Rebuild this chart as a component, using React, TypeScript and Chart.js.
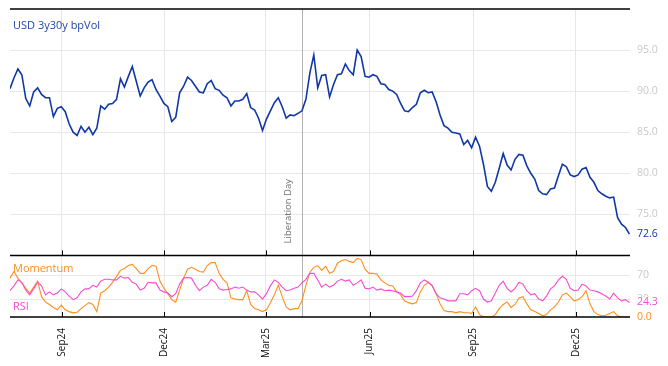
import React, { useEffect, useRef } from 'react';
import { Chart, registerables } from 'chart.js';

Chart.register(...registerables);

const TITLE = 'USD 3y30y bpVol';
const START_DATE = '2024-07-17';
const STEP_DAYS = 3.5;
const X_MAX_DAYS = 550;
const TICK_DATES = ['2024-09-01', '2024-12-01', '2025-03-01', '2025-06-01', '2025-09-01', '2025-12-01'];
const TICK_LABELS = ['Sep24', 'Dec24', 'Mar25', 'Jun25', 'Sep25', 'Dec25'];
const EVENT_DATE = '2025-04-02';
const EVENT_LABEL = 'Liberation Day';
const VOL_TICKS = [75, 80, 85, 90, 95];
const OSC_TICKS = [30, 70];

const VOL = [
  90.3, 91.6, 92.7, 92.0, 89.1, 88.2, 89.9, 90.4, 89.6, 89.2,
  89.2, 86.9, 87.9, 88.1, 87.5, 86.0, 85.0, 84.6, 85.7, 85.0,
  85.6, 84.7, 85.5, 88.2, 87.8, 88.4, 88.5, 89.0, 91.5, 90.5,
  91.8, 93.0, 91.2, 89.4, 90.4, 91.1, 91.4, 90.2, 89.4, 88.5,
  88.1, 86.3, 86.8, 89.8, 90.6, 91.7, 91.3, 90.6, 89.9, 89.8,
  90.9, 91.3, 90.3, 90.1, 89.5, 89.2, 88.2, 88.8, 88.8, 89.0,
  89.7, 88.0, 87.7, 86.7, 85.2, 86.6, 87.6, 88.6, 89.2, 88.1,
  86.7, 87.1, 87.0, 87.3, 87.6, 89.0, 92.2, 94.4, 90.4, 91.9,
  92.0, 89.3, 90.8, 92.0, 92.1, 93.3, 92.5, 92.0, 95.0, 94.2,
  91.8, 91.7, 92.0, 91.8, 90.9, 90.8, 90.2, 90.0, 89.6, 88.5,
  87.6, 87.5, 88.0, 88.4, 89.8, 90.1, 89.8, 89.9, 88.7, 87.1,
  85.8, 85.5, 85.0, 84.9, 84.8, 83.5, 84.0, 83.1, 84.4, 83.3,
  81.1, 78.4, 77.8, 78.9, 80.6, 82.4, 81.0, 80.4, 81.7, 82.3,
  82.2, 80.9, 80.0, 79.3, 77.9, 77.5, 77.4, 78.1, 78.2, 79.7,
  81.1, 80.8, 79.8, 79.6, 79.8, 80.5, 80.7, 79.5, 78.9, 77.9,
  77.5, 77.2, 77.0, 77.1, 74.6, 73.8, 73.4, 72.6,
];

const MOMENTUM = [
  65, 76, 65, 57, 48, 40, 50, 60, 34, 25,
  21, 16, 12, 20, 12, 9, 7, 8, 14, 19,
  24, 21, 9, 40, 44, 50, 58, 68, 78, 81,
  86, 88, 81, 73, 73, 81, 86, 85, 60, 48,
  39, 29, 25, 45, 65, 80, 83, 80, 76, 75,
  86, 91, 91, 73, 63, 57, 32, 30, 29, 29,
  44, 21, 14, 12, 9, 12, 24, 37, 53, 34,
  17, 12, 14, 14, 27, 53, 75, 83, 86, 78,
  85, 73, 76, 90, 94, 96, 93, 91, 98, 96,
  80, 73, 73, 72, 62, 57, 53, 52, 42, 37,
  27, 24, 22, 24, 42, 53, 58, 53, 39, 22,
  11, 9, 9, 7, 9, 7, 7, 6, 17, 4,
  0, 0, 0, 4, 14, 21, 25, 16, 21, 32,
  34, 22, 12, 9, 6, 2, 4, 12, 17, 25,
  37, 40, 34, 27, 29, 34, 44, 22, 9, 4,
  2, 3, 6, 9, 2, 0, 0, 0,
];

const RSI = [
  44, 52, 62, 58, 45, 37, 47, 58, 52, 37,
  42, 37, 40, 47, 42, 35, 29, 32, 42, 47,
  47, 53, 50, 60, 63, 63, 62, 62, 68, 65,
  66, 58, 55, 45, 48, 58, 57, 57, 45, 42,
  40, 34, 39, 55, 65, 66, 65, 53, 44, 50,
  53, 63, 58, 47, 45, 46, 47, 50, 48, 50,
  45, 42, 42, 37, 30, 39, 52, 62, 58, 50,
  44, 45, 48, 50, 57, 63, 73, 73, 62, 50,
  55, 50, 53, 60, 63, 60, 62, 53, 57, 62,
  48, 47, 50, 45, 47, 44, 45, 44, 42, 40,
  34, 34, 35, 44, 57, 62, 58, 52, 39, 32,
  30, 27, 27, 27, 39, 39, 37, 44, 48, 44,
  30, 25, 27, 40, 53, 60, 48, 42, 48, 58,
  55, 44, 37, 39, 30, 27, 35, 47, 52, 62,
  68, 63, 48, 44, 45, 55, 52, 45, 44, 42,
  39, 35, 30, 40, 32, 27, 29, 24.3,
];

const FONT = "'Open Sans', 'DejaVu Sans', sans-serif";
const BLUE = '#1037a6';
const ORANGE = '#ff8e1c';
const MAGENTA = '#f54bd5';

const dayOf = (d: string) => (Date.parse(d) - Date.parse(START_DATE)) / 86400000;
const toPoints = (arr: number[]) => arr.map((v, i) => ({ x: i * STEP_DAYS, y: v }));

const decor = {
  id: 'decor',
  beforeDatasetsDraw(chart: any) {
    const { ctx, chartArea: ca, scales } = chart;
    const ex = Math.round(scales.x.getPixelForValue(dayOf(EVENT_DATE))) + 0.5;
    ctx.save();
    ctx.strokeStyle = '#b2b2b2';
    ctx.lineWidth = 1;
    ctx.beginPath();
    ctx.moveTo(ex, ca.top);
    ctx.lineTo(ex, ca.bottom);
    ctx.stroke();
    ctx.translate(ex - 11.5, scales.y.bottom - 12);
    ctx.rotate(-Math.PI / 2);
    ctx.fillStyle = '#707070';
    ctx.font = `9.5px ${FONT}`;
    ctx.textAlign = 'left';
    ctx.textBaseline = 'alphabetic';
    ctx.fillText(EVENT_LABEL, 0, 0);
    ctx.restore();
  },
  afterDatasetsDraw(chart: any) {
    const { ctx, chartArea: ca, scales } = chart;
    const { x, y, y2 } = scales;
    ctx.save();
    // horizontal frame lines
    ctx.strokeStyle = '#000';
    ctx.lineWidth = 1.5;
    [ca.top, y.bottom, ca.bottom].forEach((yy: number) => {
      ctx.beginPath();
      ctx.moveTo(ca.left, yy);
      ctx.lineTo(ca.right, yy);
      ctx.stroke();
    });
    // inward tick marks
    ctx.lineWidth = 1;
    TICK_DATES.forEach((d) => {
      const px = Math.round(x.getPixelForValue(dayOf(d))) + 0.5;
      [y.bottom, ca.bottom].forEach((yy: number) => {
        ctx.beginPath();
        ctx.moveTo(px, yy);
        ctx.lineTo(px, yy - 5);
        ctx.stroke();
      });
    });
    // panel labels
    ctx.textAlign = 'left';
    ctx.textBaseline = 'alphabetic';
    ctx.font = `11px ${FONT}`;
    ctx.fillStyle = '#2446a8';
    ctx.fillText(TITLE, ca.left + 3, ca.top + 20);
    ctx.fillStyle = ORANGE;
    ctx.fillText('Momentum', ca.left + 3, y2.top + 16.5);
    ctx.fillStyle = MAGENTA;
    ctx.fillText('RSI', ca.left + 3, ca.bottom - 7);
    // last value labels
    const lastLabels: [number, any, string][] = [
      [VOL[VOL.length - 1], y, BLUE],
      [RSI[RSI.length - 1], y2, MAGENTA],
      [MOMENTUM[MOMENTUM.length - 1], y2, ORANGE],
    ];
    ctx.font = `10.5px ${FONT}`;
    ctx.textBaseline = 'middle';
    lastLabels.forEach(([v, sc, col]) => {
      const py = sc.getPixelForValue(v);
      ctx.fillStyle = '#fff';
      ctx.fillRect(ca.right + 4, py - 5.5, 30, 11);
      ctx.fillStyle = col;
      ctx.fillText(v.toFixed(1), ca.right + 7, py);
    });
    ctx.restore();
  },
};

export default function App() {
  const ref = useRef<HTMLCanvasElement | null>(null);

  useEffect(() => {
    if (!ref.current) return;
    const tickDays = TICK_DATES.map(dayOf);
    const chart = new Chart(ref.current, {
      type: 'line',
      data: {
        datasets: [
          {
            label: TITLE,
            data: toPoints(VOL),
            yAxisID: 'y',
            borderColor: BLUE,
            borderWidth: 1.6,
            pointRadius: 0,
            tension: 0,
          },
          {
            label: 'RSI',
            data: toPoints(RSI),
            yAxisID: 'y2',
            borderColor: MAGENTA,
            borderWidth: 1.1,
            pointRadius: 0,
            tension: 0,
          },
          {
            label: 'Momentum',
            data: toPoints(MOMENTUM),
            yAxisID: 'y2',
            borderColor: ORANGE,
            borderWidth: 1.1,
            pointRadius: 0,
            tension: 0,
          },
        ],
      },
      options: {
        animation: false,
        responsive: true,
        maintainAspectRatio: false,
        events: [],
        layout: { padding: { left: 2, top: 1, right: 0, bottom: 0 } },
        plugins: { legend: { display: false }, tooltip: { enabled: false } },
        scales: {
          x: {
            type: 'linear',
            position: 'bottom',
            min: 0,
            max: X_MAX_DAYS,
            afterBuildTicks: (s: any) => {
              s.ticks = tickDays.map((v) => ({ value: v }));
            },
            afterFit: (s: any) => {
              s.height = 41;
              s.paddingLeft = 0;
              s.paddingRight = 0;
            },
            ticks: {
              autoSkip: false,
              minRotation: 90,
              maxRotation: 90,
              padding: 11,
              color: '#111',
              font: { family: FONT, size: 10 },
              callback: (_v: any, i: number) => TICK_LABELS[i] ?? '',
            },
            grid: { color: '#e6e6e6', drawTicks: false },
            border: { display: false },
          },
          y: {
            type: 'linear',
            position: 'right',
            stack: 'panels',
            stackWeight: 4,
            min: 70,
            max: 100,
            afterBuildTicks: (s: any) => {
              s.ticks = VOL_TICKS.map((v) => ({ value: v }));
            },
            afterFit: (s: any) => {
              s.width = 30;
              s.paddingTop = 0;
              s.paddingBottom = 0;
            },
            ticks: {
              padding: 7,
              color: '#c9c9c9',
              font: { family: FONT, size: 10.5 },
              callback: (v: any) => Number(v).toFixed(1),
            },
            grid: { color: '#e8e8e8', drawTicks: false },
            border: { display: false },
          },
          y2: {
            type: 'linear',
            position: 'right',
            stack: 'panels',
            stackWeight: 1,
            min: 0,
            max: 103,
            afterBuildTicks: (s: any) => {
              s.ticks = OSC_TICKS.map((v) => ({ value: v }));
            },
            afterFit: (s: any) => {
              s.width = 30;
              s.paddingTop = 0;
              s.paddingBottom = 0;
            },
            ticks: {
              padding: 7,
              color: '#c9c9c9',
              font: { family: FONT, size: 10.5 },
              callback: (v: any) => String(v),
            },
            grid: { color: '#e8e8e8', drawTicks: false },
            border: { display: false },
          },
        },
      } as any,
      plugins: [decor],
    });
    return () => chart.destroy();
  }, []);

  return (
    <div style={{ width: 652, height: 350, position: 'relative' }}>
      <canvas ref={ref} />
    </div>
  );
}
